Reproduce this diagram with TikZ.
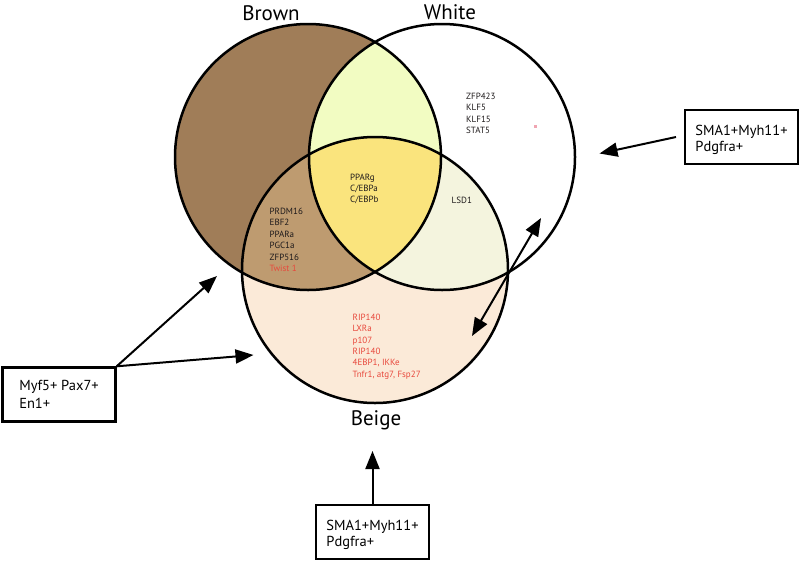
\documentclass[tikz,border=0pt]{standalone}
\usepackage{fontspec}
\setmainfont{PT Sans}
\usetikzlibrary{arrows.meta}
\definecolor{brownC}{RGB}{160,125,88}
\definecolor{bwC}{RGB}{242,252,194}
\definecolor{tripleC}{RGB}{250,228,125}
\definecolor{bgC}{RGB}{190,155,112}
\definecolor{wgC}{RGB}{244,244,222}
\definecolor{beigeC}{RGB}{251,234,216}
\definecolor{redT}{RGB}{232,72,60}
\definecolor{darkT}{RGB}{30,26,27}
\definecolor{dotC}{RGB}{240,165,178}
\tikzset{
  ring/.style={draw=black, line width=2.5pt},
  gene/.style={anchor=north west, inner sep=0pt, align=left, text=darkT, font=\fontsize{9}{11.5}\selectfont},
  redgene/.style={gene, text=redT},
  title/.style={inner sep=0pt, text=black, font=\fontsize{21}{24}\selectfont},
  cellbox/.style={draw=black, line width=2.4pt, minimum width=113pt, minimum height=54pt, inner sep=0pt, align=left, font=\fontsize{14.5}{16.5}\selectfont},
  arr/.style={line width=2pt, -{Triangle[length=18pt,width=14pt]}},
  darr/.style={line width=2pt, {Triangle[length=18pt,width=14pt]}-{Triangle[length=18pt,width=14pt]}}
}
\begin{document}
\begin{tikzpicture}[x=1pt,y=-1pt]
\useasboundingbox (0,0) rectangle (800,560);
\coordinate (cB) at (308,157);
\coordinate (cW) at (442,157);
\coordinate (cG) at (375,270);
% fills
\fill[beigeC] (cG) circle[radius=133pt];
\fill[brownC] (cB) circle[radius=133pt];
\begin{scope}
  \clip (cB) circle[radius=133pt];
  \fill[bgC] (cG) circle[radius=133pt];
  \fill[bwC] (cW) circle[radius=133pt];
\end{scope}
\begin{scope}
  \clip (cW) circle[radius=133pt];
  \fill[wgC] (cG) circle[radius=133pt];
  \clip (cB) circle[radius=133pt];
  \fill[tripleC] (cG) circle[radius=133pt];
\end{scope}
% outlines
\draw[ring] (cB) circle[radius=133pt];
\draw[ring] (cW) circle[radius=133pt];
\draw[ring] (cG) circle[radius=133pt];
% titles
\node[title] (tB) at (271,13) {Brown};
\node[title] (tW) at (450,12) {White};
\node[title] (tG) at (376,420) {Beige};
% gene lists
\node[gene] (gW) at (466,92.5) {ZFP423\\KLF5\\KLF15\\STAT5};
\fill[dotC] (533.5,124.5) rectangle (536.5,127.5);
\node[gene, font=\fontsize{9}{11.4}\selectfont] (gT) at (350,173.5) {PPARg\\C/EBPa\\C/EBPb};
\node[gene] (gBG) at (269.5,207.5) {PRDM16\\EBF2\\PPARa\\PGC1a\\ZFP516\\\textcolor{redT}{Twist 1}};
\node[gene] (gWG) at (451.5,197) {LSD1};
\node[redgene, font=\fontsize{9}{11.45}\selectfont] (gG) at (352.5,313.5) {RIP140\\LXRa\\p107\\RIP140\\4EBP1, IKKe\\Tnfr1, atg7, Fsp27};
% boxes
\node[cellbox] (bR) at (741.5,137) {\rule{0pt}{16pt}SMA1+Myh11+\\Pdgfra+};
\node[cellbox, font=\fontsize{14.5}{17.5}\selectfont] (bL) at (59,394.5) {Myf5+ Pax7+\\En1+};
\node[cellbox] (bB) at (372.5,532) {\rule{0pt}{16pt}SMA1+Myh11+\\Pdgfra+};
% arrow ends
\coordinate (tipR) at (599.5,153.5);
\coordinate (startR) at (676,137);
\coordinate (tipL1) at (217,276);
\coordinate (tipL2) at (253.5,355);
\coordinate (tipB) at (372.5,451);
\coordinate (dA) at (541,218);
\coordinate (dB) at (472,336);
% arrows
\draw[arr] (startR) -- (tipR);
\draw[arr] (bL.north east) -- (tipL1);
\draw[arr] (bL.north east) -- (tipL2);
\draw[arr] (bB.north) -- (tipB);
\draw[darr] (dB) -- (dA);
\end{tikzpicture}
\end{document}
